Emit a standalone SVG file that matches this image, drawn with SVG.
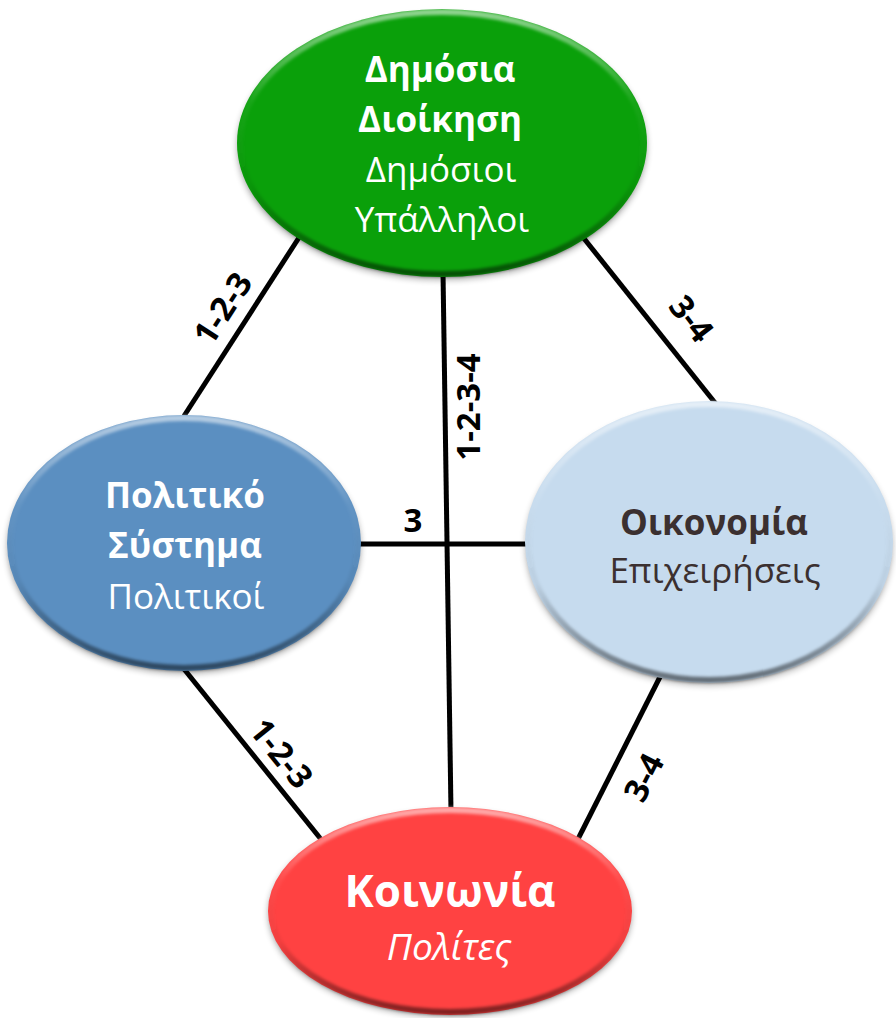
<svg xmlns="http://www.w3.org/2000/svg" width="896" height="1018" viewBox="0 0 896 1018">
  <style>
    .conn { stroke: #000; stroke-width: 5; fill: none; }
    .lbl { font-family: "Open Sans", "Noto Sans", sans-serif; font-weight: bold; font-size: 33px; fill: #000; text-anchor: middle; dominant-baseline: central; }
    .t { font-family: "Open Sans", "Noto Sans", sans-serif; font-size: 35px; fill: #fff; text-anchor: middle; }
    .b { font-weight: bold; }
    .dark { fill: #3b3030; }
  </style>
  <defs>
    <filter id="shadow" x="-10%" y="-10%" width="120%" height="130%">
      <feGaussianBlur stdDeviation="3"/>
    </filter>
    <filter id="soft" x="-5%" y="-5%" width="110%" height="110%">
      <feGaussianBlur stdDeviation="1.5"/>
    </filter>
    <linearGradient id="bevel" x1="0" y1="0" x2="0" y2="1">
      <stop offset="0" stop-color="#fff" stop-opacity="0.55"/>
      <stop offset="0.35" stop-color="#fff" stop-opacity="0.05"/>
      <stop offset="0.65" stop-color="#000" stop-opacity="0.05"/>
      <stop offset="1" stop-color="#000" stop-opacity="0.5"/>
    </linearGradient>
  </defs>

  <g id="connectors">
    <line class="conn" x1="300" y1="236" x2="184" y2="416"/>
    <line class="conn" x1="443" y1="272" x2="451" y2="812"/>
    <line class="conn" x1="582" y1="236" x2="716" y2="404"/>
    <line class="conn" x1="355" y1="544" x2="530" y2="544"/>
    <line class="conn" x1="184" y1="669" x2="324" y2="843"/>
    <line class="conn" x1="664" y1="669" x2="576" y2="843"/>
    <text class="lbl" transform="translate(222,308) rotate(-57)">1-2-3</text>
    <text class="lbl" transform="translate(467,407) rotate(-90)">1-2-3-4</text>
    <text class="lbl" transform="translate(692,318) rotate(52)">3-4</text>
    <text class="lbl" x="413" y="519">3</text>
    <text class="lbl" transform="translate(282,753) rotate(51)">1-2-3</text>
    <text class="lbl" transform="translate(643,777) rotate(-63)">3-4</text>
  </g>

  <g id="node-dimosia">
    <ellipse cx="442" cy="147" rx="205" ry="133" fill="#000" opacity="0.3" filter="url(#shadow)"/>
    <ellipse cx="442" cy="143" rx="205" ry="134" fill="#0aa00a"/>
    <ellipse cx="442" cy="143" rx="202" ry="131" fill="none" stroke="url(#bevel)" stroke-width="6" filter="url(#soft)"/>
    <text class="t b" x="440" y="82">Δημόσια</text>
    <text class="t b" x="440" y="132">Διοίκηση</text>
    <text class="t" x="441" y="182">Δημόσιοι</text>
    <text class="t" x="442" y="232">Υπάλληλοι</text>
  </g>

  <g id="node-politiko">
    <ellipse cx="184" cy="547" rx="177" ry="127" fill="#000" opacity="0.3" filter="url(#shadow)"/>
    <ellipse cx="184" cy="543" rx="177" ry="128" fill="#5b8fc1"/>
    <ellipse cx="184" cy="543" rx="174" ry="125" fill="none" stroke="url(#bevel)" stroke-width="6" filter="url(#soft)"/>
    <text class="t b" x="185" y="508">Πολιτικό</text>
    <text class="t b" x="185" y="558">Σύστημα</text>
    <text class="t" x="186" y="609">Πολιτικοί</text>
  </g>

  <g id="node-oikonomia">
    <ellipse cx="709" cy="546" rx="184" ry="140" fill="#000" opacity="0.25" filter="url(#shadow)"/>
    <ellipse cx="709" cy="542" rx="184" ry="141" fill="#c6dbee"/>
    <ellipse cx="709" cy="542" rx="181" ry="138" fill="none" stroke="url(#bevel)" stroke-width="6" filter="url(#soft)"/>
    <text class="t b dark" x="714" y="535">Οικονομία</text>
    <text class="t dark" x="715" y="583">Επιχειρήσεις</text>
  </g>

  <g id="node-koinonia">
    <ellipse cx="450" cy="914" rx="182" ry="103" fill="#000" opacity="0.3" filter="url(#shadow)"/>
    <ellipse cx="450" cy="911" rx="182" ry="104" fill="#ff4242"/>
    <ellipse cx="450" cy="911" rx="179" ry="101" fill="none" stroke="url(#bevel)" stroke-width="6" filter="url(#soft)"/>
    <text class="t b" x="450" y="907" style="font-size:44px">Κοινωνία</text>
    <text class="t" x="449" y="960" font-style="italic" style="font-size:37px">Πολίτες</text>
  </g>
</svg>
